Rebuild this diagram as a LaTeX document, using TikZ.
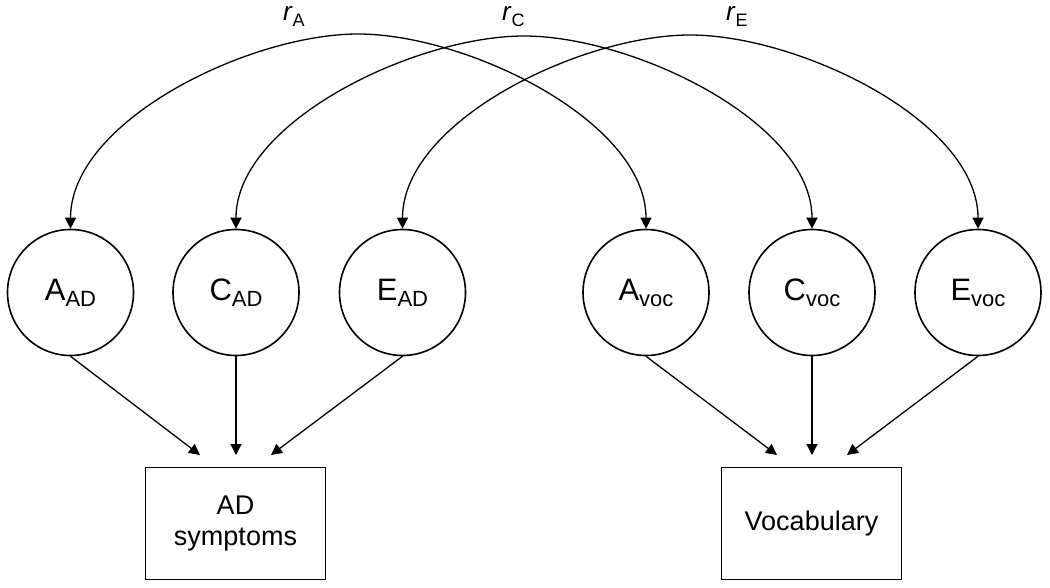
\documentclass[tikz,border=0pt]{standalone}
\usepackage{fontspec}
\setmainfont{Liberation Sans}
\usetikzlibrary{arrows.meta}
\newcommand{\subtxt}[1]{\raisebox{-6pt}{\fontsize{22}{22}\selectfont #1}}
\newcommand{\rsubtxt}[1]{\raisebox{-6pt}{\fontsize{18}{18}\selectfont #1}}
\begin{document}
\begin{tikzpicture}[x=1pt,y=-1pt,
  latent/.style={circle,draw,line width=1.6pt,minimum size=126pt,inner sep=0pt,font=\fontsize{31}{36}\selectfont},
  observed/.style={draw,line width=1.6pt,minimum width=180pt,minimum height=112pt,inner sep=0pt,align=center,font=\fontsize{27}{31}\selectfont},
  arr/.style={-{Triangle[length=11pt,width=11pt]},line width=1.3pt},
  cov/.style={{Triangle[length=11pt,width=11pt]}-{Triangle[length=11pt,width=11pt]},line width=1.3pt},
  lbl/.style={anchor=base west,inner sep=0pt,font=\fontsize{26}{30}\selectfont}
]
\useasboundingbox (0,0) rectangle (1050,588);

% latent variables
\node[latent] (Aad) at (70.5,292.5) {A\subtxt{AD}};
\node[latent] (Cad) at (236,292.5) {C\subtxt{AD}};
\node[latent] (Ead) at (402.5,292.5) {E\subtxt{AD}};
\node[latent] (Avoc) at (646,292.5) {A\subtxt{voc}};
\node[latent] (Cvoc) at (812,292.5) {C\subtxt{voc}};
\node[latent] (Evoc) at (978,292.5) {E\subtxt{voc}};

% observed variables
\node[observed] (ADs) at (235.5,523.5) {AD\\symptoms};
\node[observed] (Voc) at (811.5,523.5) {Vocabulary};

% arrow end points
\coordinate (adA) at (200,455);
\coordinate (adC) at (236,455);
\coordinate (adE) at (271,455);
\coordinate (vA) at (777,455);
\coordinate (vC) at (812,455);
\coordinate (vE) at (847,455);

\draw[arr] (Aad.south) -- (adA);
\draw[arr] (Cad.south) -- (adC);
\draw[arr] (Ead.south) -- (adE);
\draw[arr] (Avoc.south) -- (vA);
\draw[arr] (Cvoc.south) -- (vC);
\draw[arr] (Evoc.south) -- (vE);

% correlation arcs
\coordinate (pA) at (358,34);
\coordinate (pC) at (524,36);
\coordinate (pE) at (690,35);
\draw[cov] (Aad.north) .. controls (70.5,121) and (249,34) .. (pA) .. controls (467,34) and (646,121) .. (Avoc.north);
\draw[cov] (Cad.north) .. controls (236,122) and (415,36) .. (pC) .. controls (633,36) and (812,122) .. (Cvoc.north);
\draw[cov] (Ead.north) .. controls (402.5,121) and (581,35) .. (pE) .. controls (799,35) and (978,121) .. (Evoc.north);

% labels
\node[lbl] (rA) at (283,21) {\textit{r}\rsubtxt{A}};
\node[lbl] (rC) at (502,21) {\textit{r}\rsubtxt{C}};
\node[lbl] (rE) at (726,21) {\textit{r}\rsubtxt{E}};
\end{tikzpicture}
\end{document}
